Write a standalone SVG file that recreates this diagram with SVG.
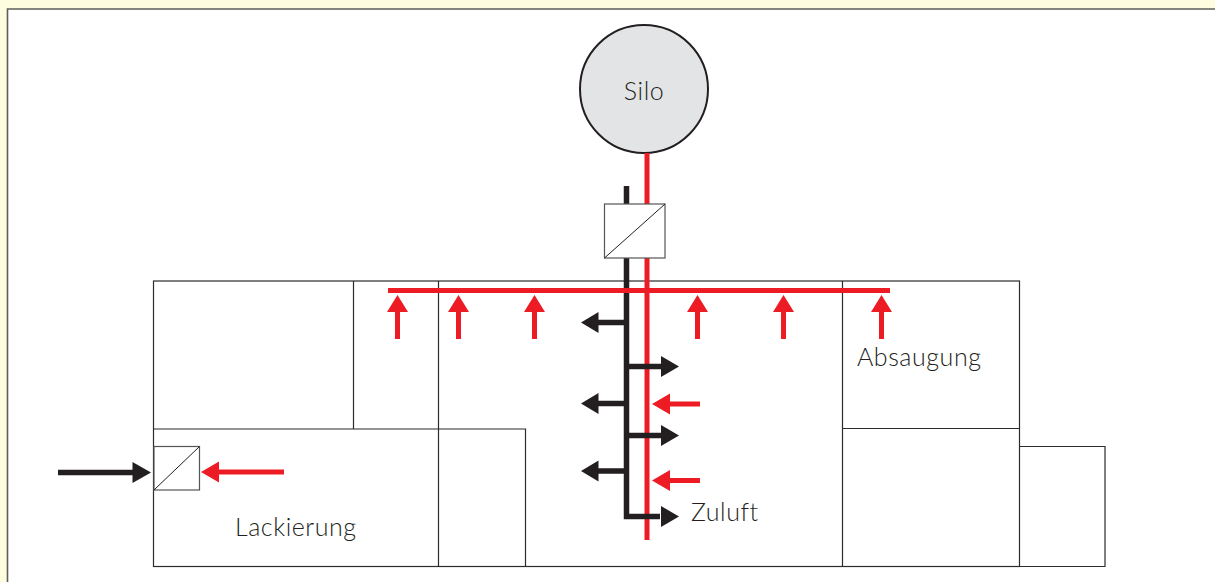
<svg xmlns="http://www.w3.org/2000/svg" width="1215" height="582" viewBox="0 0 1215 582">
<style>
.room{fill:none;stroke:#2b2b2b;stroke-width:1.2}
.blk{fill:none;stroke:#231f20;stroke-width:5.500}
.red{fill:none;stroke:#ed1c24;stroke-width:5}
.hb{fill:#231f20}
.hr{fill:#ed1c24}
.box{fill:#fff;stroke:#555;stroke-width:1.2}
.diag{stroke:#231f20;stroke-width:1}
text{font-family:"Lato","Open Sans",sans-serif;font-size:25px;font-weight:300;letter-spacing:.55px;fill:#231f20}
</style>
<rect width="1215" height="582" fill="#fffde0"/>
<path d="M1215 9H7.5V582H1215Z" fill="#fff"/>
<path d="M1215 9H7.5V582" fill="none" stroke="#5f5f58" stroke-width="1.6"/>
<g id="rooms">
<rect class="room" x="153.500" y="281" width="866" height="285.500"/>
<path class="room" d="M353.500 281V429M438.500 281V566.500M153.500 429H525.500V566.500M842.500 281V566.500M842.500 428.500H1019.500M1019.500 446.500H1105V566.500H1019.500"/>
</g>
<g id="silo">
<circle cx="644" cy="89" r="64" fill="#e3e4e5" stroke="#231f20" stroke-width="2"/>
<text x="644" y="100" text-anchor="middle">Silo</text>
</g>
<g id="connectors">
<path class="red" d="M647 153V540"/>
<path class="blk" d="M626.500 186V516.500H660"/>
<path class="red" d="M388 290.500H890"/>
<path class="blk" d="M626 322.500H597M626 366.500H662M626 403.500H597M626 435.500H662M626 471H597"/>
<path class="hb" d="M581 322.500L598.500 312V333ZM679 366.500L661 356V377ZM581 403.500L598.500 393V414ZM679 435.500L661 425V446ZM581 471L598.500 460.500V481.500ZM679 516.500L661 506V527Z"/>
<path class="red" d="M397.500 339V312M458.500 339V312M534.500 339V312M697.500 339V312M783.500 339V312M881.500 339V312M700 404H668M700 480.500H668"/>
<path class="hr" d="M397.500 295L387 312H408ZM458.500 295L448 312H469ZM534.500 295L524 312H545ZM697.500 295L687 312H708ZM783.500 295L773 312H794ZM881.500 295L871 312H892ZM652 404L670 393.500V414.500ZM652 480.500L670 470V491Z"/>
<path class="blk" d="M58 472.500H135"/>
<path class="hb" d="M151 472.500L132.500 462V483Z"/>
<path class="red" d="M284 472H218"/>
<path class="hr" d="M201 472L219 461.500V482.500Z"/>
</g>
<g id="valve-top">
<rect class="box" x="604.500" y="204" width="60.500" height="54"/>
<path class="diag" d="M604.500 258L665 204"/>
</g>
<g id="valve-left">
<rect class="box" x="154" y="446.500" width="45.500" height="43.500"/>
<path class="diag" d="M154 490L199.500 446.500"/>
</g>
<g id="labels">
<text x="857" y="366">Absaugung</text>
<text x="691" y="521">Zuluft</text>
<text x="235" y="536">Lackierung</text>
</g>
</svg>
